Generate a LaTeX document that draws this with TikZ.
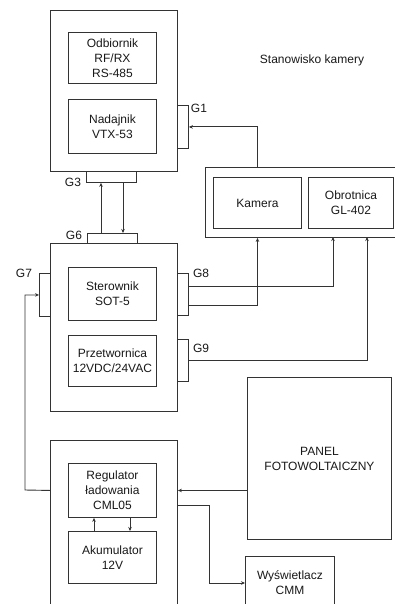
\documentclass[tikz,border=0pt]{standalone}
\usepackage{fontspec}
\setmainfont{Liberation Sans}
\usetikzlibrary{arrows.meta}
\begin{document}
\begin{tikzpicture}[x=1pt,y=-1pt,
  every node/.style={font=\fontsize{12}{15}\selectfont, text=black!90},
  box/.style={draw=black!80, line width=0.9pt, anchor=north west, inner sep=0pt, align=center},
  tab/.style={draw=black!80, line width=0.9pt, anchor=north west, inner sep=0pt},
  lbl/.style={inner sep=0pt},
  conn/.style={draw=black!80, line width=0.9pt},
  arr/.style={conn, -{Stealth[length=4pt,width=3.5pt]}}]
\clip (0,0) rectangle (395,604);
\fill[white] (0,0) rectangle (395,604);

% top station
\node[box, minimum width=127pt, minimum height=161pt] (top) at (50,10) {};
\node[box, minimum width=88pt, minimum height=51pt] (odb) at (68,32) {Odbiornik\\RF/RX\\RS-485};
\node[box, minimum width=88pt, minimum height=54pt] (nad) at (68,99) {Nadajnik\\VTX-53};
\node[tab, minimum width=11pt, minimum height=43pt] (g1) at (177,105) {};
\node[lbl] (g1l) at (199,108) {G1};
\node[tab, minimum width=50pt, minimum height=11pt] (g3) at (86,171) {};
\node[lbl] (g3l) at (73,182) {G3};

% camera station
\node[lbl] (st) at (312,60) {Stanowisko kamery};
\node[box, minimum width=195pt, minimum height=70pt] (cam) at (205,167) {};
\node[box, minimum width=88pt, minimum height=51pt] (kam) at (213,177) {Kamera};
\node[box, minimum width=85pt, minimum height=51pt] (obr) at (308,177) {Obrotnica\\GL-402};

% middle station
\node[tab, minimum width=50pt, minimum height=10pt] (g6) at (87,233) {};
\node[lbl] (g6l) at (74,235) {G6};
\node[box, minimum width=127pt, minimum height=168pt] (mid) at (50,243) {};
\node[box, minimum width=88pt, minimum height=53pt] (ster) at (68,267) {Sterownik\\SOT-5};
\node[box, minimum width=88pt, minimum height=51pt] (prz) at (68,335) {Przetwornica\\12VDC/24VAC};
\node[tab, minimum width=11pt, minimum height=43pt] (g7) at (39,273) {};
\node[lbl] (g7l) at (24,273) {G7};
\node[tab, minimum width=11pt, minimum height=42pt] (g8) at (177,273) {};
\node[lbl] (g8l) at (201,273) {G8};
\node[tab, minimum width=11pt, minimum height=42pt] (g9) at (177,339) {};
\node[lbl] (g9l) at (201,348) {G9};

% power station
\node[box, minimum width=144pt, minimum height=162pt] (pan) at (247,377) {PANEL\\FOTOWOLTAICZNY};
\node[box, minimum width=127pt, minimum height=180pt] (bot) at (50,440) {};
\node[box, minimum width=88pt, minimum height=54pt] (reg) at (68,463) {Regulator\\ładowania\\CML05};
\node[box, minimum width=88pt, minimum height=52pt] (aku) at (68,531) {Akumulator\\12V};
\node[box, minimum width=89pt, minimum height=52pt] (wys) at (245,556) {Wyświetlacz\\CMM};

% connectors
\draw[arr] (kam.north |- cam.north) |- (g1.east);
\draw[arr] (g6.north -| 101,0) -- (g3.south -| 101,0);
\draw[arr] (g3.south -| 123,0) -- (g6.north -| 123,0);
\coordinate (o1) at (333,237);
\coordinate (o2) at (367,237);
\draw[arr] ([yshift=-11pt]g8.east) -| (kam.north |- cam.south);
\draw[arr] ([yshift=8pt]g8.east) -| (o1);
\draw[arr] (g9.east) -| (o2);
\coordinate (g7c) at (25,490);
\draw[arr] (bot.west |- reg.center) -- (g7c) |- (g7.west);
\draw[arr] (pan.west |- reg.center) -- (bot.east |- reg.center);
\coordinate (d1) at (209,505);
\draw[arr] (bot.east |- d1) -- (d1) |- (wys.west |- 0,583);
\draw[arr] (aku.north -| 94,0) -- (reg.south -| 94,0);
\draw[arr] (reg.south -| 130,0) -- (aku.north -| 130,0);
\end{tikzpicture}
\end{document}
